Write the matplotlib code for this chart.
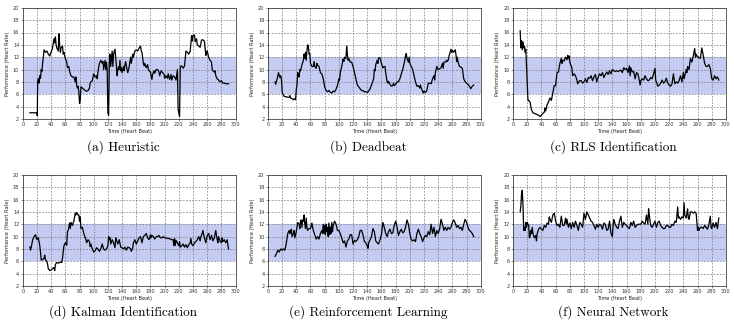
import numpy as np
import matplotlib
matplotlib.use("Agg")
import matplotlib.pyplot as plt

# values (time in heart beats, performance in heart rate)
heuristic_x = [10, 20, 20.5, 21, 22, 23, 24, 25, 26, 27, 28, 29, 30, 32, 34, 36, 38, 40, 42, 44, 45, 46, 47, 48, 50, 51, 52, 53, 54, 56, 57, 58, 60, 62, 63, 65, 66, 68, 70, 72, 74, 75, 76, 77, 78, 79, 80, 81, 82, 84, 86, 88, 90, 92, 94, 95, 96, 98, 100, 102, 104, 105, 106, 108, 110, 112, 113, 114, 116, 117, 118, 119, 120, 121, 122, 123, 124, 126, 127, 128, 130, 131, 133, 134, 135, 136, 137, 138, 139, 140, 142, 143, 144, 145, 147, 148, 150, 152, 153, 155, 156, 158, 160, 162, 164, 166, 167, 168, 170, 171, 172, 174, 176, 177, 178, 180, 182, 183, 185, 186, 188, 190, 192, 193, 195, 197, 199, 200, 202, 204, 205, 207, 209, 210, 212, 214, 216, 218, 219, 220, 221, 222, 224, 226, 228, 230, 232, 234, 236, 238, 239, 240, 242, 243, 245, 246, 248, 250, 252, 254, 256, 258, 259, 260, 262, 264, 266, 267, 268, 270, 271, 272, 274, 276, 278, 280, 282, 284, 286, 288, 290]
heuristic_y = [3, 3, 2.5, 8, 8.5, 7.8, 9, 8.6, 10, 9.7, 11, 12, 13.2, 12.8, 13, 12.5, 12.2, 12.8, 13.5, 15, 14.3, 15.3, 14, 13.5, 13, 15.8, 14, 12.8, 13.5, 13.8, 12.5, 12.8, 11.8, 11.2, 10.3, 10.5, 9.7, 9, 8.8, 8.8, 8, 8.8, 7.4, 7, 7.3, 6.5, 4.5, 5, 7.2, 7, 6.8, 6.6, 6.5, 6.6, 7, 7.8, 8, 8.2, 9.3, 8.8, 9, 8.5, 9.6, 11, 11.5, 11, 11.3, 10, 11.5, 10, 11.2, 10, 3, 2.6, 11, 12.5, 10.5, 13, 10.5, 12.5, 13.3, 12, 9, 10, 10.5, 10, 11.5, 9.8, 10.3, 9.5, 10.5, 9.8, 10.8, 11.3, 10, 9.5, 10.5, 12, 11, 12.5, 12, 13, 13.2, 13, 13.5, 13.8, 13, 12.8, 11, 10.6, 11, 10.3, 10.8, 10, 9.8, 9.6, 8.4, 9.2, 9.8, 9.4, 10, 10, 9.6, 9, 9.8, 9.5, 9.3, 8.6, 9, 8.6, 9.3, 8.4, 9.2, 8.3, 9, 8.8, 8.3, 10, 3.5, 3, 2.4, 10.5, 10.6, 10.2, 10.6, 13, 12.8, 12.5, 13, 15.5, 14.6, 15.5, 15.6, 14.5, 15, 14, 13.8, 13.6, 14.8, 14.8, 14.6, 12.3, 12.8, 13, 12, 11.5, 11.2, 10, 9.8, 9.6, 9.8, 9, 8.5, 8.3, 8, 8.2, 7.8, 7.8, 7.7, 7.7, 7.7]

deadbeat_x = [10, 11, 13, 15, 16, 17, 18, 19, 20, 21, 22, 24, 26, 28, 30, 31, 32, 34, 36, 38, 39, 40, 41, 42, 43, 44, 45, 46, 48, 50, 51, 52, 53, 54, 55, 56, 57, 58, 59, 60, 62, 64, 65, 66, 68, 69, 70, 72, 74, 76, 78, 80, 82, 84, 86, 88, 90, 92, 94, 96, 98, 100, 101, 102, 104, 106, 107, 108, 110, 111, 112, 113, 114, 116, 118, 120, 122, 124, 126, 128, 130, 132, 134, 136, 138, 140, 142, 144, 146, 148, 149, 150, 151, 152, 154, 155, 156, 158, 159, 160, 162, 163, 165, 166, 168, 169, 170, 172, 174, 176, 177, 178, 180, 182, 184, 186, 188, 190, 192, 194, 195, 196, 198, 199, 200, 202, 204, 206, 208, 210, 212, 214, 215, 216, 218, 219, 220, 222, 224, 226, 228, 230, 232, 234, 235, 236, 238, 240, 242, 244, 246, 247, 248, 250, 252, 253, 254, 256, 258, 259, 260, 262, 264, 265, 266, 267, 268, 270, 272, 274, 276, 278, 280, 282, 284, 286, 288, 290]
deadbeat_y = [8, 7.6, 8.5, 9.5, 9, 8.7, 9, 8.5, 6.5, 6, 5.8, 5.6, 5.6, 5.5, 5.5, 5.8, 5.4, 5.3, 5.1, 5.3, 5.1, 6.8, 7.5, 9.5, 9.2, 8.8, 10, 9.8, 10.8, 11.5, 12.5, 11.8, 12.8, 11.5, 13, 14, 13.7, 12.5, 12.6, 11, 10.5, 10.5, 11.3, 10.5, 10.2, 11, 10.7, 10.5, 9.5, 9.3, 8.5, 7.2, 6.6, 6.4, 6.6, 6.3, 6.2, 6.5, 6.4, 6.8, 7.4, 8.5, 8.3, 9.5, 10.5, 11.7, 11.3, 12, 11.8, 13.8, 12.5, 11.5, 11.8, 11.2, 11.2, 10.5, 9.5, 8.5, 7.5, 7.2, 6.9, 6.6, 6.6, 6.4, 6.4, 6.3, 6.5, 6.9, 7.5, 8.2, 8.5, 10, 9.8, 10.8, 11.5, 11, 11.9, 11.9, 11.5, 11, 10.3, 10.4, 10.5, 9.5, 8, 7.8, 8.1, 7.6, 7.3, 7.4, 7.8, 7.4, 7.6, 8, 8, 8.5, 9.3, 10, 11, 12.2, 12.6, 11.8, 11.2, 12, 11, 10.5, 10, 9, 8, 7.3, 7.4, 7, 7.5, 7, 6.5, 6.2, 6.5, 6.3, 6.6, 7.8, 7.8, 7.7, 8.5, 9, 8.3, 9.5, 10.5, 10, 10.1, 10.3, 11, 10.2, 11.2, 11.2, 11.5, 11.3, 11.5, 12.5, 13.3, 12.8, 13.1, 12.8, 13.2, 12.5, 11.3, 12, 11.2, 10.5, 10.4, 10.2, 8.5, 8, 7.8, 7.6, 7.3, 6.9, 7.3, 7.5]

rls_x = [10, 11, 12, 13, 14, 15, 16, 17, 18, 19, 20, 21, 22, 24, 25, 26, 28, 30, 32, 34, 36, 38, 40, 42, 44, 45, 46, 48, 50, 52, 53, 54, 56, 58, 60, 61, 62, 64, 65, 66, 68, 69, 70, 72, 74, 76, 77, 78, 79, 80, 82, 83, 84, 86, 88, 90, 91, 92, 94, 96, 98, 100, 102, 104, 106, 108, 110, 112, 114, 116, 118, 120, 122, 124, 126, 128, 130, 132, 134, 136, 138, 140, 142, 144, 146, 148, 150, 152, 154, 156, 158, 160, 162, 164, 165, 166, 168, 170, 172, 174, 176, 178, 179, 180, 182, 184, 186, 188, 190, 192, 194, 196, 198, 200, 201, 202, 204, 206, 208, 210, 212, 214, 216, 218, 220, 222, 224, 226, 227, 228, 230, 232, 234, 236, 238, 240, 241, 242, 244, 245, 246, 248, 250, 252, 254, 256, 257, 258, 260, 262, 264, 266, 268, 270, 272, 274, 276, 278, 280, 282, 284, 286, 288, 290]
rls_y = [16.3, 13.5, 14.7, 13.2, 14.5, 13.5, 13.8, 12.8, 13.3, 10.5, 7.5, 5, 5, 4.7, 4, 3.5, 3, 2.9, 2.8, 2.7, 2.6, 2.4, 2.6, 2.9, 3.1, 3.8, 3.3, 4.3, 4.8, 5.4, 5.2, 5, 6.2, 7.4, 7.4, 8.5, 9.5, 9.6, 10.3, 11, 11.8, 11, 11.5, 11.4, 12, 11.6, 12.3, 11.8, 12.2, 11.2, 10.5, 10.2, 9, 9.3, 9, 8.3, 7.7, 7.9, 8.2, 8.2, 7.8, 8, 8.5, 7.9, 8.7, 8.6, 9, 8.2, 8.8, 9.2, 8, 8.8, 9.3, 9, 9.5, 8.7, 9.2, 9.6, 9.2, 9.8, 9.3, 10, 9.8, 9.7, 9.8, 9.7, 9.8, 9.9, 9.5, 10.3, 10, 10.2, 9.5, 10.6, 9, 10.3, 9.6, 9.7, 8.5, 9.5, 9.3, 8.2, 7.5, 8.2, 8.5, 8.3, 9, 8.5, 8.2, 8.3, 8.7, 8.5, 9.3, 10.2, 8.3, 8, 7.3, 7.5, 7.8, 8.3, 7.8, 8, 8.6, 7.8, 7.5, 7.3, 7.7, 9.3, 8.5, 7.7, 8, 7.8, 8.2, 9, 8, 9.5, 8.5, 9, 10, 9.5, 10.5, 10, 11.8, 11.2, 12.2, 13.4, 12, 12.5, 12, 12, 11.8, 13.5, 12.3, 11, 10.5, 10.5, 10.8, 10.2, 8.5, 8.3, 9, 8.5, 8.8, 8.3]

kalman_x = [10, 11, 12, 14, 16, 18, 19, 20, 21, 22, 24, 25, 26, 28, 30, 31, 32, 34, 35, 36, 38, 40, 42, 44, 45, 46, 48, 50, 52, 54, 55, 56, 57, 58, 60, 62, 63, 64, 65, 66, 67, 68, 70, 72, 74, 75, 76, 78, 79, 80, 81, 82, 84, 86, 88, 89, 90, 92, 94, 95, 96, 98, 100, 102, 104, 106, 108, 110, 112, 114, 116, 118, 120, 121, 122, 123, 124, 126, 128, 130, 131, 132, 134, 136, 138, 140, 142, 144, 146, 148, 150, 152, 153, 155, 156, 158, 160, 162, 164, 166, 168, 170, 172, 174, 176, 178, 180, 181, 182, 184, 186, 188, 190, 192, 194, 196, 198, 200, 202, 204, 206, 208, 210, 212, 213, 214, 215, 216, 218, 220, 221, 222, 224, 226, 228, 230, 232, 234, 236, 237, 238, 240, 242, 244, 246, 248, 250, 251, 252, 254, 255, 256, 258, 260, 262, 263, 264, 266, 268, 270, 272, 274, 275, 276, 278, 280, 281, 282, 284, 286, 288, 290]
kalman_y = [8.3, 7.8, 8.3, 9.5, 10, 10.3, 9.8, 9.5, 9.8, 9.8, 8.5, 7.5, 6.2, 6.3, 6.5, 7, 6.2, 6, 5.5, 4.8, 4.5, 4.6, 4.8, 5, 4.5, 5.5, 5.8, 5.7, 5.8, 5.9, 5.8, 6.5, 7.5, 8.5, 9, 8.6, 10.8, 11, 11.5, 12.2, 11.3, 12.3, 11.8, 12.5, 13.8, 13.5, 13.9, 13.5, 13.5, 12.5, 13.2, 11.3, 11.5, 10.5, 9.8, 9.5, 9, 9.5, 9.2, 8.4, 8.8, 8, 7.5, 7.7, 8.2, 8, 7.6, 8, 8.8, 8, 7.8, 8, 8.5, 10, 9.5, 9.8, 8.8, 9.5, 9, 8.2, 9.8, 9.5, 8.8, 9.5, 8.3, 8.2, 8, 8.3, 7.8, 8.3, 8.2, 8, 7.6, 8.2, 9, 9.5, 8.8, 9.3, 9.8, 10, 9, 10, 10.2, 10.5, 9.8, 9.5, 10.3, 9.8, 10.2, 10, 9.6, 10, 10, 10.2, 9.8, 9.8, 10, 9.8, 9.8, 9.7, 9.7, 9.6, 9.5, 9.5, 8.5, 9.7, 8.6, 9.4, 9, 8.5, 9.2, 8.3, 8.5, 8.8, 8.3, 8.7, 8.2, 8.7, 9, 9.7, 8.8, 8.5, 9, 9.2, 9.5, 10, 9.3, 10, 10.2, 11, 10.3, 9.8, 9, 10.2, 10.5, 10, 9.5, 10.2, 9.3, 9.8, 11, 9.5, 9, 10, 9.3, 9, 9.8, 9.2, 9.5, 9, 9.5, 8]

rl_x = [10, 12, 14, 16, 18, 20, 22, 24, 26, 28, 30, 31, 32, 33, 34, 36, 37, 38, 40, 41, 42, 44, 45, 46, 47, 48, 49, 50, 51, 52, 53, 54, 55, 56, 58, 60, 62, 63, 64, 66, 68, 70, 72, 74, 76, 77, 78, 79, 80, 81, 82, 83, 84, 85, 86, 87, 88, 89, 90, 91, 92, 94, 96, 98, 100, 102, 104, 106, 108, 110, 112, 114, 116, 118, 120, 122, 124, 126, 128, 130, 132, 134, 136, 138, 140, 141, 142, 144, 146, 148, 150, 152, 154, 156, 158, 160, 162, 164, 166, 168, 170, 172, 174, 176, 178, 180, 182, 184, 186, 188, 190, 192, 194, 196, 198, 200, 202, 204, 206, 208, 210, 212, 214, 216, 218, 220, 222, 224, 226, 228, 230, 232, 234, 236, 238, 240, 242, 244, 246, 248, 250, 252, 254, 256, 258, 260, 262, 264, 266, 268, 270, 272, 274, 276, 278, 280, 282, 284, 286, 288, 290]
rl_y = [6.8, 7.2, 7.8, 7.5, 8, 7.8, 8, 7.8, 9, 10.5, 11, 10.5, 10.8, 11.2, 10, 10.5, 11, 9.8, 10.8, 11.5, 12.3, 12, 11.3, 12.5, 12.7, 11.5, 12.7, 12.5, 13.5, 12, 11.3, 13, 11.5, 11, 11.3, 11.3, 12.2, 11.5, 11, 10.3, 9.6, 10, 9.6, 10.5, 11, 10.5, 12, 10.5, 11.8, 10.3, 12, 10.8, 11.5, 10, 12.2, 10.3, 11.5, 10.5, 12.3, 10.8, 11.8, 12.5, 12, 11, 11, 10.5, 9.8, 9, 9.3, 8.3, 9.3, 9.6, 10.3, 10.3, 8.8, 9.4, 9.2, 9.5, 10, 11, 11, 10.3, 9.2, 9, 8.5, 8.1, 9, 9.5, 10, 11.3, 10.8, 9.3, 9, 8.8, 9.5, 10.3, 12.3, 11.5, 10.5, 10, 10.8, 11.2, 10.5, 10.6, 11.8, 12.5, 11.5, 10.2, 10.8, 11.2, 10.6, 10.8, 11.5, 12.7, 12, 10.5, 9.5, 9.3, 9.5, 9.2, 10.5, 11.2, 10.5, 10, 9.2, 9.8, 10.2, 10, 10.8, 10.3, 12, 10.5, 11.5, 10, 11, 10.5, 11.2, 12.8, 12, 11, 11.5, 11, 11.5, 11.2, 11.5, 12.3, 12.7, 12.2, 11.5, 11.8, 11.3, 11.5, 11, 12, 12.8, 12.3, 11.5, 11, 10.8, 10.5, 10]

nn_x = [10, 11, 12, 13, 14, 15, 16, 17, 18, 19, 20, 21, 22, 23, 24, 25, 26, 27, 28, 30, 32, 33, 34, 36, 38, 40, 42, 44, 46, 48, 50, 51, 52, 54, 56, 58, 60, 62, 64, 66, 68, 69, 70, 72, 74, 75, 76, 78, 80, 82, 84, 86, 88, 90, 92, 94, 96, 98, 100, 102, 104, 106, 108, 110, 112, 114, 116, 118, 120, 122, 124, 126, 128, 130, 132, 134, 136, 138, 140, 141, 142, 144, 146, 148, 150, 152, 154, 156, 158, 160, 162, 164, 166, 168, 170, 172, 174, 176, 178, 180, 182, 184, 186, 188, 190, 191, 192, 194, 196, 198, 200, 202, 204, 206, 208, 210, 212, 214, 216, 218, 220, 222, 224, 226, 228, 230, 232, 233, 234, 236, 238, 240, 241, 242, 244, 246, 247, 248, 250, 252, 254, 256, 258, 260, 261, 262, 264, 266, 268, 270, 272, 274, 276, 278, 279, 280, 282, 284, 286, 288, 290]
nn_y = [14, 15, 17, 17.5, 15, 11, 11.5, 11, 12.3, 11.5, 12.3, 12, 11.8, 9.8, 10, 11, 10.5, 11.5, 10.5, 9.8, 10.2, 9.3, 10.5, 11.2, 11.5, 11.2, 11, 11.8, 11.5, 12.2, 12, 13.2, 12.8, 12.3, 13.5, 13.8, 12.5, 11.8, 12, 11.5, 13.3, 12.5, 11.8, 11.8, 13, 12, 12.8, 11.5, 12.2, 11.3, 12.3, 11.5, 12.5, 11.8, 11, 12.3, 12, 11.5, 13.8, 12.8, 14, 13.5, 13, 12.5, 12.3, 11.8, 11.2, 12, 11.5, 12, 11.8, 11.2, 12.2, 12, 11, 11.2, 12.5, 10.5, 10, 11.8, 12.8, 12, 11.5, 11.3, 12.5, 13.3, 11.5, 12.3, 12, 11.8, 11.5, 11.3, 12.3, 11.8, 12.5, 11.5, 11.8, 12, 12, 12, 12.5, 12.2, 12, 13.5, 12, 14.5, 13.5, 11.8, 11.5, 12, 12.5, 11.5, 12.3, 12.5, 11.8, 11.5, 11.3, 11.3, 11.8, 11.8, 11.5, 11.5, 12, 11.8, 12.5, 12.3, 14.8, 13, 13.2, 12.8, 13.2, 13, 15.5, 13.5, 13, 14.5, 13, 12.8, 14, 14, 13.8, 14, 13.8, 11, 11.5, 11, 11.5, 11.5, 11.3, 11.8, 11.5, 11.2, 12, 13.3, 11.5, 11.3, 12.2, 11.5, 12.3, 11.3, 13]

series = [
    ("(a) Heuristic", heuristic_x, heuristic_y),
    ("(b) Deadbeat", deadbeat_x, deadbeat_y),
    ("(c) RLS Identification", rls_x, rls_y),
    ("(d) Kalman Identification", kalman_x, kalman_y),
    ("(e) Reinforcement Learning", rl_x, rl_y),
    ("(f) Neural Network", nn_x, nn_y),
]

band_low, band_high = 6, 12

fig = plt.figure(figsize=(7.34, 3.25), dpi=100)

lefts = [0.031, 0.365, 0.699]
bottoms = [0.634, 0.12]
w, h = 0.290, 0.342
title_y = [0.548, 0.04]

for i, (title, x, y) in enumerate(series):
    row, col = divmod(i, 3)
    ax = fig.add_axes([lefts[col], bottoms[row], w, h])
    ax.axhspan(band_low, band_high, color="#c5ccf3", zorder=0, lw=0)
    ax.plot(x, y, color="black", lw=0.9, zorder=3)
    ax.set_xlim(0, 300)
    ax.set_ylim(2, 20)
    ax.set_xticks(np.arange(0, 301, 20))
    ax.set_yticks(np.arange(2, 21, 2))
    ax.grid(True, color="#777777", ls=(0, (2.5, 2)), lw=0.5, zorder=1)
    ax.tick_params(labelsize=3.6, length=1.5, width=0.4, pad=1, colors="#333333")
    for s in ax.spines.values():
        s.set_linewidth(0.6)
        s.set_color("#444444")
    ax.set_xlabel("Time (Heart Beat)", fontsize=3.6, labelpad=1, color="#222222")
    ax.set_ylabel("Performance (Heart Rate)", fontsize=3.6, labelpad=2, color="#222222")
    cx = lefts[col] + w / 2 - 0.008
    fig.text(cx, title_y[row], title, ha="center", va="center",
             fontsize=9.5, family="cmr10")

fig.savefig("out.png", dpi=100)
